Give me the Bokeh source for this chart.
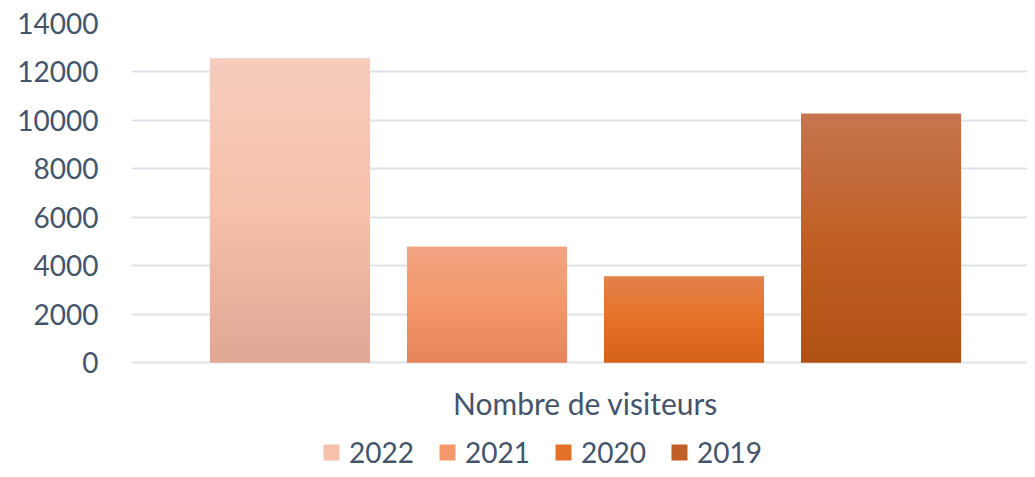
from bokeh.plotting import figure
from bokeh.models import FactorRange, Range1d, Legend, LegendItem, ColumnDataSource
from bokeh.core.properties import value
from bokeh.transform import dodge
from bokeh.embed import file_html
from bokeh.resources import INLINE

# ---- data ----
categories = ["Nombre de visiteurs"]
years = ["2022", "2021", "2020", "2019"]
values = [12550, 4780, 3550, 10270]
y_ticks = [0, 2000, 4000, 6000, 8000, 10000, 12000, 14000]

# gradient colours per series (top, middle, bottom)
top_colors = ["#F6CCBD", "#F2A483", "#E4834F", "#C5754F"]
mid_colors = ["#F6C0AA", "#F4976A", "#E57127", "#C06026"]
bottom_colors = ["#E0A794", "#E6845A", "#D5621A", "#B05114"]

TEXT = "#44546A"
FONT = "Lato"

# frame extends below zero to hold the category label and the legend
p = figure(x_range=FactorRange(*categories), y_range=Range1d(-4419, 14000),
           width=1027, height=469, output_backend="svg", toolbar_location=None,
           min_border_left=131, min_border_right=0, min_border_top=23,
           min_border_bottom=0)
p.outline_line_color = None
p.background_fill_color = "white"


def hex2rgb(h):
    h = h.lstrip("#")
    return tuple(int(h[i:i + 2], 16) for i in (0, 2, 4))


def mix(a, b, t):
    ra, rb = hex2rgb(a), hex2rgb(b)
    return "#%02x%02x%02x" % tuple(round(ra[i] + (rb[i] - ra[i]) * t) for i in range(3))


def grad(t, c0, c1, c2):
    # t = 0 at top, 1 at bottom
    if t < 0.5:
        return mix(c0, c1, t / 0.5)
    return mix(c1, c2, (t - 0.5) / 0.5)


n = len(years)
step = 0.2199
bar_w = 0.1786
shift = 0.0067
N = 100
items = []
for i, (yr, v) in enumerate(zip(years, values)):
    off = (i - (n - 1) / 2) * step + shift
    src = ColumnDataSource(dict(x=categories, top=[v]))
    r = p.vbar(x=dodge("x", off, range=p.x_range), top="top", width=bar_w, source=src,
               fill_color=mid_colors[i], line_color=None)
    items.append(LegendItem(label=yr, renderers=[r]))
    # gradient overlay: horizontal slices of the same bar
    bots = [v * k / N for k in range(N)]
    tops = [min(v, v * (k + 1.5) / N) for k in range(N)]
    cols = [grad(1 - (k + 0.5) / N, top_colors[i], mid_colors[i], bottom_colors[i]) for k in range(N)]
    gsrc = ColumnDataSource(dict(x=categories * N, bottom=bots, top=tops, c=cols))
    p.vbar(x=dodge("x", off, range=p.x_range), bottom="bottom", top="top", width=bar_w,
           source=gsrc, fill_color="c", line_color=None)

# category label under the bars
p.text(x=dodge("x", shift, range=p.x_range), y="y", text="t",
       source=ColumnDataSource(dict(x=categories, y=[-1693], t=categories)),
       text_font=value(FONT), text_font_size="30px", text_color=TEXT,
       text_align="center", text_baseline="middle")

# axes
p.xaxis.visible = False
p.yaxis.ticker = y_ticks
p.yaxis.axis_line_color = None
p.yaxis.major_tick_line_color = None
p.yaxis.minor_tick_line_color = None
p.yaxis.major_label_text_font = FONT
p.yaxis.major_label_text_font_size = "28px"
p.yaxis.major_label_text_color = TEXT
p.yaxis.major_label_standoff = 27

p.xgrid.grid_line_color = None
p.ygrid.grid_line_color = "#DDE2E8"
p.ygrid.grid_line_width = 2

legend = Legend(items=items, orientation="horizontal", location=(190, 0),
                label_text_font=FONT, label_text_font_size="28px",
                label_text_color=TEXT, glyph_width=20, glyph_height=20,
                spacing=23, label_standoff=8, border_line_color=None,
                background_fill_alpha=0, margin=0, padding=0,
                label_height=20)
p.add_layout(legend, "center")

open("out.html", "w").write(file_html(p, INLINE))
